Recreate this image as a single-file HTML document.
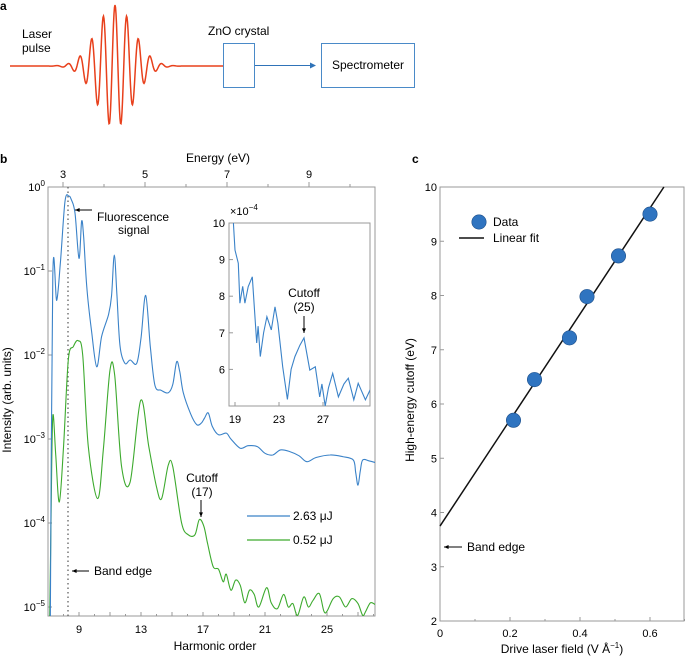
<!DOCTYPE html>
<html><head><meta charset="utf-8"><style>
html,body{margin:0;padding:0;background:#fff}
svg{display:block;font-family:"Liberation Sans",sans-serif}
</style></head><body>
<svg id="fig" width="685" height="658" viewBox="0 0 685 658">
<text x="0" y="10" font-size="12" font-weight="bold">a</text>
<text x="22" y="38" font-size="12">Laser</text>
<text x="22" y="52" font-size="12">pulse</text>
<path id="pulse" fill="none" stroke="#e8401c" stroke-width="1.5"/>
<text x="208" y="35" font-size="12">ZnO crystal</text>
<rect x="223.5" y="43.5" width="31" height="44" fill="none" stroke="#4a8ac8" stroke-width="1"/>
<line x1="255" y1="65.5" x2="312" y2="65.5" stroke="#2f73b8" stroke-width="1"/>
<path d="M316,65.5 L310,62.5 L310,68.5 Z" fill="#2f73b8"/>
<rect x="321.5" y="43.5" width="93" height="44" fill="none" stroke="#4a8ac8" stroke-width="1"/>
<text x="368" y="69" font-size="12" text-anchor="middle">Spectrometer</text>

<text x="0" y="163" font-size="12" font-weight="bold">b</text>
<text x="412" y="163" font-size="12" font-weight="bold">c</text>
<g id="gb"></g><g id="gc"></g>
</svg>
<script>
// ---------- Panel b data ----------
const blueH=[7.15,7.31,7.56,7.8,8.1,8.35,8.5,8.74,9.0,9.17,9.3,9.5,9.8,10.14,10.46,10.9,11.1,11.28,11.45,11.65,11.97,12.3,12.72,13.0,13.3,13.6,13.9,14.3,14.76,15.05,15.3,15.5,15.73,16.2,16.6,16.9,17.1,17.34,17.6,18.0,18.5,18.8,19.4,19.9,20.5,21.0,21.5,22.0,22.6,23.2,23.7,24.3,25.2,26.0,26.7,26.85,27.0,27.15,27.3,27.7,28.1];
const blueLog=[-5.2,-1.06,-1.35,-0.9,-0.17,-0.11,-0.15,-0.31,-0.85,-0.41,-0.6,-1.19,-1.7,-2.14,-1.78,-1.52,-1.3,-0.81,-1.3,-1.9,-2.1,-2.06,-2.1,-1.8,-1.29,-1.9,-2.36,-2.42,-2.45,-2.35,-2.08,-2.2,-2.45,-2.7,-2.83,-2.81,-2.75,-2.69,-2.85,-2.95,-2.93,-3.0,-3.11,-3.08,-3.09,-3.17,-3.19,-3.13,-3.15,-3.2,-3.27,-3.22,-3.19,-3.21,-3.25,-3.4,-3.55,-3.38,-3.25,-3.26,-3.28];
const greenH=[7.1,7.2,7.31,7.5,7.73,8.0,8.31,8.63,8.95,9.24,9.6,10.2,10.57,11.0,11.3,11.75,12.3,12.98,13.5,14.0,14.33,14.76,15.05,15.62,16.05,16.48,16.76,17.06,17.3,17.66,18.0,18.3,18.5,18.8,19.1,19.4,19.7,20.0,20.3,20.6,21.1,21.4,21.8,22.2,22.5,22.8,23.1,23.5,23.8,24.1,24.5,24.8,25.0,25.4,25.8,26.2,26.6,27.0,27.3,27.5,27.8,28.1];
const greenLog=[-5.3,-3.9,-2.73,-3.2,-3.75,-3.1,-2.06,-1.9,-1.83,-2.0,-3.09,-3.71,-3.13,-2.18,-2.24,-3.33,-3.51,-2.54,-3.09,-3.57,-3.71,-3.31,-3.33,-4.0,-4.14,-4.14,-3.96,-4.04,-4.25,-4.52,-4.55,-4.7,-4.61,-4.8,-4.68,-4.74,-4.95,-4.8,-4.85,-5.0,-4.77,-4.95,-5.02,-4.85,-5.0,-4.96,-5.1,-4.88,-5.0,-4.92,-4.84,-5.05,-5.05,-4.9,-4.88,-5.0,-4.9,-4.96,-5.1,-5.05,-4.95,-4.97];
const insetH=[18.85,19.0,19.3,19.45,19.7,19.9,20.2,20.57,20.97,21.1,21.3,21.6,21.9,22.3,22.64,22.9,23.34,23.76,24.1,24.45,24.9,25.27,25.8,26.3,26.7,26.9,27.2,27.5,27.88,28.4,28.9,29.3,29.8,30.2,30.85,31.3];
const insetVal=[10,9.26,8.9,7.81,8.27,7.81,8.26,8.53,6.72,7.18,6.35,7.0,7.44,7.08,7.71,7.26,6.07,5.18,6.0,6.35,6.66,6.86,5.98,6.07,5.25,5.6,5.0,5.5,5.89,5.25,5.6,5.76,5.17,5.62,5.17,5.45];
const harmTicks=[9,13,17,21,25];
const energyTicks=[3,5,7,9];
const logTicks=[0,-1,-2,-3,-4,-5];
const insetXTicks=[19,23,27];
const insetYTicks=[6,7,8,9,10];
// ---------- Panel c data ----------
const fieldVals=[0.21,0.27,0.37,0.42,0.51,0.60];
const cutoffVals=[5.7,6.45,7.22,7.98,8.73,9.5];
const fitIntercept=3.75, fitSlope=9.77;
const cXTicks=[0,0.2,0.4,0.6];
const cYTicks=[2,3,4,5,6,7,8,9,10];

const NS="http://www.w3.org/2000/svg";
function mk(parent,tag,attrs,txt){const e=document.createElementNS(NS,tag);for(const k in attrs)e.setAttribute(k,attrs[k]);if(txt!==undefined)e.textContent=txt;parent.appendChild(e);return e;}

// pulse
(function(){let d="M10,66";for(let x=10;x<=223;x+=0.5){const env=Math.exp(-Math.pow((x-115)/26,2));const y=66-61*env*Math.cos(2*Math.PI*(x-115)/11.7);d+=" L"+x+","+y.toFixed(2);}document.getElementById('pulse').setAttribute('d',d);})();

// panel b axes
const bx0=48,bx1=375,by0=187,by1=616;
const hx=h=>79+(h-9)*15.5;
const ly=l=>187-l*84;
const ex=e=>63+(e-3)*41;
const gb=document.getElementById('gb');
const clipB=mk(gb,'clipPath',{id:'clipb'});mk(clipB,'rect',{x:bx0,y:by0,width:bx1-bx0,height:by1-by0});
let frame=mk(gb,'rect',{x:bx0,y:by0,width:bx1-bx0,height:by1-by0,fill:'none',stroke:'#999','stroke-width':1});


for(let h=7;h<=28;h++){const t=mk(gb,'line',{x1:hx(h),x2:hx(h),y1:by1,y2:by1-(h%2?4:2),stroke:'#999'});}
harmTicks.forEach(h=>{const t=mk(gb,'text',{x:hx(h),y:633,'font-size':11,'text-anchor':'middle'},String(h));});
for(let e=3;e<=10;e++){const t=mk(gb,'line',{x1:ex(e),x2:ex(e),y1:by0,y2:by0-(e%2?5:3),stroke:'#999'});}
energyTicks.forEach(e=>{const t=mk(gb,'text',{x:ex(e),y:178,'font-size':11,'text-anchor':'middle'},String(e));});
logTicks.forEach(l=>{const t=mk(gb,'line',{x1:bx0,x2:bx0+4,y1:ly(l),y2:ly(l),stroke:'#999'});
 const tx=mk(gb,'text',{x:bx0-3,y:ly(l)+4,'font-size':11,'text-anchor':'end'});
 mk(tx,'tspan',{},'10');mk(tx,'tspan',{dy:-5,'font-size':8},String(l===0?0:'−'+(-l)));});
let t;
t=mk(gb,'text',{x:218,y:162,'font-size':12,'text-anchor':'middle'},'Energy (eV)');
t=mk(gb,'text',{x:215,y:650,'font-size':12,'text-anchor':'middle'},'Harmonic order');
t=mk(gb,'text',{x:0,y:0,'font-size':12,'text-anchor':'middle',transform:'translate(11,400) rotate(-90)'},'Intensity (arb. units)');
t=mk(gb,'line',{x1:68,x2:68,y1:by0,y2:by1,stroke:'#555','stroke-width':1.2,'stroke-dasharray':'1.5,3'});
function linePath(xs,ys,fx,fy){return xs.map((v,i)=>(i?'L':'M')+fx(v).toFixed(1)+','+fy(ys[i]).toFixed(1)).join(' ');}
function smoothPath(xs,ys,fx,fy){const P=xs.map((v,i)=>[fx(v),fy(ys[i])]);let d='M'+P[0][0].toFixed(1)+','+P[0][1].toFixed(1);
 for(let i=0;i<P.length-1;i++){const p0=P[i-1]||P[i],p1=P[i],p2=P[i+1],p3=P[i+2]||p2;const k=1/6;
  d+=` C${(p1[0]+(p2[0]-p0[0])*k).toFixed(1)},${(p1[1]+(p2[1]-p0[1])*k).toFixed(1)} ${(p2[0]-(p3[0]-p1[0])*k).toFixed(1)},${(p2[1]-(p3[1]-p1[1])*k).toFixed(1)} ${p2[0].toFixed(1)},${p2[1].toFixed(1)}`;}
 return d;}
t=mk(gb,'path',{d:smoothPath(greenH,greenLog,hx,ly),fill:'none',stroke:'#3daa2e','stroke-width':1.1,'clip-path':'url(#clipb)'});
t=mk(gb,'path',{d:smoothPath(blueH,blueLog,hx,ly),fill:'none',stroke:'#3a82c8','stroke-width':1.1,'clip-path':'url(#clipb)'});
function arrow(g,x1,y1,x2,y2,name){const a=mk(g,'line',{x1,y1,x2,y2,stroke:'#000','stroke-width':1});
 const ang=Math.atan2(y2-y1,x2-x1),s=5;const p=`M${x2},${y2} L${x2-s*Math.cos(ang-0.4)},${y2-s*Math.sin(ang-0.4)} L${x2-s*Math.cos(ang+0.4)},${y2-s*Math.sin(ang+0.4)} Z`;
 const h=mk(g,'path',{d:p,fill:'#000'});}
arrow(gb,92,210,75,210,'fluorescence-arrow');
t=mk(gb,'text',{x:97,y:221,'font-size':12},'Fluorescence');
t=mk(gb,'text',{x:118,y:234,'font-size':12},'signal');
arrow(gb,89,571,72,571,'band-edge-arrow');
t=mk(gb,'text',{x:94,y:575,'font-size':12},'Band edge');
t=mk(gb,'text',{x:202,y:482,'font-size':12,'text-anchor':'middle'},'Cutoff');
t=mk(gb,'text',{x:202,y:496,'font-size':12,'text-anchor':'middle'},'(17)');
arrow(gb,201,500,201,517,'cutoff-17-arrow');
t=mk(gb,'line',{x1:247,x2:290,y1:516,y2:516,stroke:'#3a82c8','stroke-width':1.2});
t=mk(gb,'text',{x:293,y:520,'font-size':12},'2.63 μJ');
t=mk(gb,'line',{x1:247,x2:290,y1:540,y2:540,stroke:'#3daa2e','stroke-width':1.2});
t=mk(gb,'text',{x:293,y:544,'font-size':12},'0.52 μJ');
// inset
const ix0=229,ix1=370,iy0=223,iy1=406;
const ixf=h=>235+(h-19)*11;
const iyf=v=>223-(v-10)*36.6;
t=mk(gb,'rect',{x:ix0,y:iy0,width:ix1-ix0,height:iy1-iy0,fill:'#fff',stroke:'#999'});
const clipI=mk(gb,'clipPath',{id:'clipi'});mk(clipI,'rect',{x:ix0,y:iy0,width:ix1-ix0,height:iy1-iy0});
t=mk(gb,'path',{d:linePath(insetH,insetVal,ixf,iyf),fill:'none',stroke:'#3a82c8','stroke-width':1.1,'clip-path':'url(#clipi)'});
insetXTicks.forEach(h=>{t=mk(gb,'line',{x1:ixf(h),x2:ixf(h),y1:iy1,y2:iy1-4,stroke:'#999'});
 t=mk(gb,'text',{x:ixf(h),y:423,'font-size':11,'text-anchor':'middle'},String(h));});
insetYTicks.forEach(v=>{t=mk(gb,'line',{x1:ix0,x2:ix0+4,y1:iyf(v),y2:iyf(v),stroke:'#999'});
 t=mk(gb,'text',{x:ix0-4,y:iyf(v)+4,'font-size':11,'text-anchor':'end'},String(v));});
t=mk(gb,'text',{x:230,y:215,'font-size':11});
mk(t,'tspan',{},'×10');mk(t,'tspan',{dy:-5,'font-size':8},'−4');
t=mk(gb,'text',{x:304,y:297,'font-size':12,'text-anchor':'middle'},'Cutoff');
t=mk(gb,'text',{x:304,y:311,'font-size':12,'text-anchor':'middle'},'(25)');
arrow(gb,304,316,304,333,'cutoff-25-arrow');

// panel c
const gc=document.getElementById('gc');
const cx0=440,cx1=684,cy0=187,cy1=621;
const cxf=v=>440+v*350;
const cyf=v=>621-(v-2)*54.25;
t=mk(gc,'rect',{x:cx0,y:cy0,width:cx1-cx0,height:cy1-cy0,fill:'none',stroke:'#999'});
for(let i=0;i<=7;i++){const v=i*0.1;t=mk(gc,'line',{x1:cxf(v),x2:cxf(v),y1:cy1,y2:cy1-(i%2?2:4),stroke:'#999'});}
cXTicks.forEach(v=>{t=mk(gc,'text',{x:cxf(v),y:637,'font-size':11,'text-anchor':'middle'},String(v));});
cYTicks.forEach(v=>{t=mk(gc,'line',{x1:cx0,x2:cx0+4,y1:cyf(v),y2:cyf(v),stroke:'#999'});
 t=mk(gc,'text',{x:cx0-3,y:cyf(v)+4,'font-size':11,'text-anchor':'end'},String(v));});
t=mk(gc,'text',{x:562,y:653,'font-size':12,'text-anchor':'middle'});
mk(t,'tspan',{},'Drive laser field (V Å');mk(t,'tspan',{dy:-5,'font-size':8},'−1');mk(t,'tspan',{dy:5},')');
t=mk(gc,'text',{x:0,y:0,'font-size':12,'text-anchor':'middle',transform:'translate(414,400) rotate(-90)'},'High-energy cutoff (eV)');
const xEnd=(10-fitIntercept)/fitSlope;
t=mk(gc,'line',{x1:cxf(0),y1:cyf(fitIntercept),x2:cxf(xEnd),y2:cyf(10),stroke:'#111','stroke-width':1.5});
fieldVals.forEach((v,i)=>{t=mk(gc,'circle',{cx:cxf(v),cy:cyf(cutoffVals[i]),r:7.2,fill:'#2f74c0',stroke:'#1d4f8a','stroke-width':0.6});});
t=mk(gc,'circle',{cx:479,cy:222,r:7.2,fill:'#2f74c0',stroke:'#1d4f8a','stroke-width':0.6});
t=mk(gc,'text',{x:493,y:226,'font-size':12},'Data');
t=mk(gc,'line',{x1:459,x2:484,y1:238,y2:238,stroke:'#111','stroke-width':1.5});
t=mk(gc,'text',{x:493,y:242,'font-size':12},'Linear fit');
arrow(gc,462,547,444,547,'c-band-edge-arrow');
t=mk(gc,'text',{x:467,y:551,'font-size':12},'Band edge');
</script>
</body></html>
